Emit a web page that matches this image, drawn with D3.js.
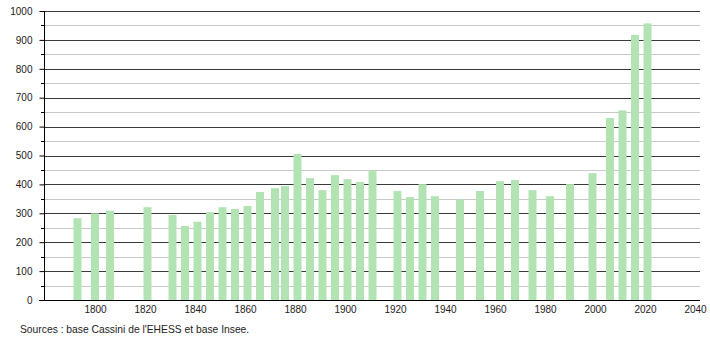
<!DOCTYPE html>
<html>
<head>
<meta charset="utf-8">
<script src="https://cdn.jsdelivr.net/npm/d3@7"></script>
<style>
html,body{margin:0;padding:0;background:#fff;}
svg{display:block;}
text{font-family:"Liberation Sans",Arial,sans-serif;fill:#222;}
</style>
</head>
<body>
<svg id="chart" width="710" height="340"></svg>
<script>
const years = [1793,1800,1806,1821,1831,1836,1841,1846,1851,1856,1861,1866,1872,1876,1881,1886,1891,1896,1901,1906,1911,1921,1926,1931,1936,1946,1954,1962,1968,1975,1982,1990,1999,2006,2011,2016,2021];
const population = [283,300,309,321,294,256,271,304,321,315,325,374,387,394,505,422,380,432,418,408,446,377,356,401,359,348,377,411,415,380,359,401,439,630,656,917,957];
const xTicks = [1800,1820,1840,1860,1880,1900,1920,1940,1960,1980,2000,2020,2040];
const yMajor = [0,100,200,300,400,500,600,700,800,900,1000];
const yMinor = [50,150,250,350,450,550,650,750,850,950];
const sourceText = "Sources : base Cassini de l'EHESS et base Insee.";

const svg = d3.select("#chart");
const x = d3.scaleLinear().domain([1780, 2042]).range([45, 700]);
const y = d3.scaleLinear().domain([0, 1000]).range([300, 11]);
const barW = 8;

// minor grid
svg.append("g").selectAll("line").data(yMinor).join("line")
  .attr("x1", 45).attr("x2", 700)
  .attr("y1", d => Math.round(y(d)) + 0.5).attr("y2", d => Math.round(y(d)) + 0.5)
  .attr("stroke", "#c8c8c8").attr("stroke-width", 1);
// major grid
svg.append("g").selectAll("line").data(yMajor.filter(d => d > 0)).join("line")
  .attr("x1", 45).attr("x2", 700)
  .attr("y1", d => Math.round(y(d)) + 0.5).attr("y2", d => Math.round(y(d)) + 0.5)
  .attr("stroke", "#3a3a3a").attr("stroke-width", 1);

// bars
svg.append("g").selectAll("rect").data(years).join("rect")
  .attr("x", (d) => x(d) - barW / 2)
  .attr("width", barW)
  .attr("y", (d, i) => y(population[i]))
  .attr("height", (d, i) => y(0) - y(population[i]))
  .attr("fill", "#b2e3b2");

// y axis
const yAxis = d3.axisLeft(y).tickValues(yMajor).tickSize(5).tickPadding(7).tickFormat(d3.format("d"));
const gy = svg.append("g").attr("transform", "translate(44.5,0)").call(yAxis);
gy.select(".domain").attr("stroke", "#000").attr("d", `M0,${y(1000)}V${y(0)}`);
gy.selectAll(".tick line").attr("stroke", "#000");
gy.selectAll(".tick text").attr("font-size", 10).attr("fill", "#222").style("font-family", "'Liberation Sans',Arial,sans-serif");
// minor y ticks
svg.append("g").selectAll("line").data(yMinor).join("line")
  .attr("x1", 41).attr("x2", 44.5)
  .attr("y1", d => Math.round(y(d)) + 0.5).attr("y2", d => Math.round(y(d)) + 0.5)
  .attr("stroke", "#000");

// x axis
const xAxis = d3.axisBottom(x).tickValues(xTicks).tickSize(0).tickPadding(5).tickFormat(d3.format("d"));
const gx = svg.append("g").attr("transform", `translate(0,${Math.round(y(0)) + 0.5})`).call(xAxis);
gx.select(".domain").attr("stroke", "#000").attr("d", "M39,0H700");
gx.selectAll(".tick text").attr("font-size", 10).attr("fill", "#222").style("font-family", "'Liberation Sans',Arial,sans-serif");

// source
svg.append("text").attr("x", 20).attr("y", 333).attr("font-size", 10.3).text(sourceText);
</script>
</body>
</html>
